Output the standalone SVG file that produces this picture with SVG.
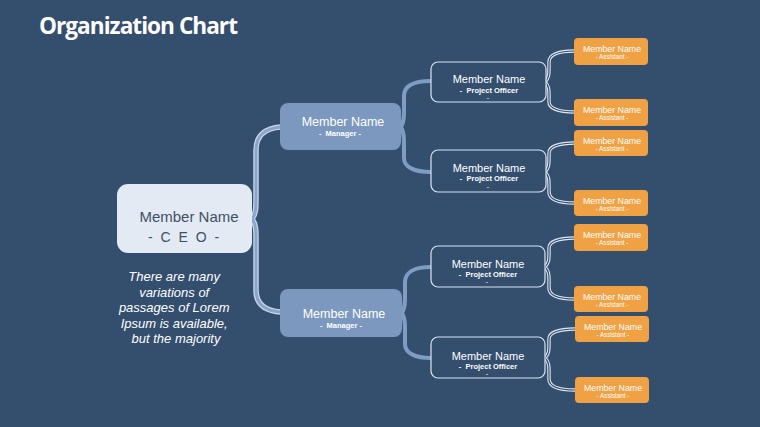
<svg xmlns="http://www.w3.org/2000/svg" width="760" height="427" viewBox="0 0 760 427">
<style>
.t{font-family:"Liberation Sans",Arial,sans-serif;text-anchor:middle}
.mgr{fill:#7c98bf}
.po{fill:#344e6e;stroke:#dbe4ef;stroke-width:1.2}
.as{fill:#f0a143}
.an{font-size:8.8px}
.aa{font-size:6.3px}
.brA{fill:none;stroke:#c9d6e7;stroke-width:5.5}
.brB{fill:none;stroke:#8aa5ca;stroke-width:3}
.brC{fill:none;stroke:#7f9cc3;stroke-width:4}
.brW{fill:none;stroke:#dde6f1;stroke-width:3.4}
.brD{fill:none;stroke:#344e6e;stroke-width:1.2}
</style>
<rect width="760" height="427" fill="#344e6e"/>
<text x="39" y="34" font-family="'Open Sans','Liberation Sans',sans-serif" font-weight="bold" font-size="23" fill="#ffffff" textLength="198" lengthAdjust="spacingAndGlyphs" letter-spacing="-1">Organization Chart</text>

<g id="connectors">
  <path class="brA" d="M252,219 C256,214 256,208 256,198 L256,150 C256,136 265,128 281,127"/>
  <path class="brA" d="M252,219 C256,224 256,230 256,240 L256,290 C256,304 265,311 281,312"/>
  <path class="brB" d="M252,219 C256,214 256,208 256,198 L256,150 C256,136 265,128 281,127"/>
  <path class="brB" d="M252,219 C256,224 256,230 256,240 L256,290 C256,304 265,311 281,312"/>
  <path class="brC" d="M401,127 C404,122 404,117 404,110 L404,96 C404,86 414,81 431,81"/>
  <path class="brC" d="M401,127 C404,132 404,137 404,144 L404,158 C404,167 414,172 431,172"/>
  <path class="brC" d="M402,313 C405,308 405,303 405,296 L405,282 C405,272 415,267 431,267"/>
  <path class="brC" d="M402,313 C405,318 405,323 405,330 L405,344 C405,353 415,358 431,358"/>
  <g>
    <path class="brW" d="M545,82 C549,78 549,74 549,69 L549,62 C549,55 558,51 575,51 M545,82 C549,86 549,90 549,95 L549,102 C549,108 558,112 575,112"/>
    <path class="brD" d="M545,82 C549,78 549,74 549,69 L549,62 C549,55 558,51 575,51 M545,82 C549,86 549,90 549,95 L549,102 C549,108 558,112 575,112"/>
  </g>
  <g>
    <path class="brW" d="M545,172 C549,168 549,164 549,159 L549,153 C549,147 558,143 575,143 M545,172 C549,176 549,180 549,185 L549,192 C549,199 558,203 575,203"/>
    <path class="brD" d="M545,172 C549,168 549,164 549,159 L549,153 C549,147 558,143 575,143 M545,172 C549,176 549,180 549,185 L549,192 C549,199 558,203 575,203"/>
  </g>
  <g>
    <path class="brW" d="M545,267 C549,263 549,259 549,254 L549,248 C549,242 558,238 575,238 M545,267 C549,271 549,275 549,280 L549,288 C549,295 558,299 575,299"/>
    <path class="brD" d="M545,267 C549,263 549,259 549,254 L549,248 C549,242 558,238 575,238 M545,267 C549,271 549,275 549,280 L549,288 C549,295 558,299 575,299"/>
  </g>
  <g>
    <path class="brW" d="M545,358 C549,354 549,350 549,345 L549,339 C549,333 558,329 575,329 M545,358 C549,362 549,366 549,371 L549,379 C549,386 558,390 575,390"/>
    <path class="brD" d="M545,358 C549,354 549,350 549,345 L549,339 C549,333 558,329 575,329 M545,358 C549,362 549,366 549,371 L549,379 C549,386 558,390 575,390"/>
  </g>
</g>

<g id="ceo">
  <rect x="117" y="184" width="135" height="69" rx="11" fill="#e3eaf3"/>
  <text class="t" x="189" y="222" font-size="15" fill="#3f5066">Member Name</text>
  <text x="148" y="242" font-family="'Liberation Sans',Arial,sans-serif" font-size="14" fill="#3f5066" letter-spacing="2">- C E O -</text>
</g>

<g id="note">
  <text class="t" font-size="13" font-style="italic" fill="#ffffff">
    <tspan x="176" y="281">There are many</tspan>
    <tspan x="176" y="297">variations of</tspan>
    <tspan x="176" y="312">passages of Lorem</tspan>
    <tspan x="176" y="328">Ipsum is available,</tspan>
    <tspan x="176" y="343">but the majority</tspan>
  </text>
</g>

<g id="manager1">
  <rect class="mgr" x="280" y="103" width="121" height="47" rx="8"/>
  <text class="t" x="343" y="126" font-size="12.5" fill="#ffffff">Member Name</text>
  <text class="t" x="340" y="136" font-size="7.5" font-weight="bold" fill="#ffffff" xml:space="preserve">-  Manager -</text>
</g>
<g id="manager2">
  <rect class="mgr" x="280" y="289" width="122" height="48" rx="8"/>
  <text class="t" x="344" y="318" font-size="12.5" fill="#ffffff">Member Name</text>
  <text class="t" x="341" y="328" font-size="7.5" font-weight="bold" fill="#ffffff" xml:space="preserve">-  Manager -</text>
</g>

<g id="po1">
  <rect class="po" x="431" y="62" width="115" height="40" rx="7"/>
  <text class="t" x="489" y="83" font-size="11" fill="#ffffff">Member Name</text>
  <text class="t" x="489" y="93" font-size="7.5" font-weight="bold" fill="#ffffff" xml:space="preserve">-  Project Officer</text>
  <text class="t" x="488" y="100" font-size="7" fill="#ffffff">-</text>
</g>
<g id="po2">
  <rect class="po" x="431" y="150" width="115" height="42" rx="7"/>
  <text class="t" x="489" y="172" font-size="11" fill="#ffffff">Member Name</text>
  <text class="t" x="489" y="181" font-size="7.5" font-weight="bold" fill="#ffffff" xml:space="preserve">-  Project Officer</text>
  <text class="t" x="488" y="189" font-size="7" fill="#ffffff">-</text>
</g>
<g id="po3">
  <rect class="po" x="431" y="246" width="114" height="41" rx="7"/>
  <text class="t" x="488" y="268" font-size="11" fill="#ffffff">Member Name</text>
  <text class="t" x="488" y="277" font-size="7.5" font-weight="bold" fill="#ffffff" xml:space="preserve">-  Project Officer</text>
  <text class="t" x="487" y="284" font-size="7" fill="#ffffff">-</text>
</g>
<g id="po4">
  <rect class="po" x="431" y="337" width="114" height="41" rx="7"/>
  <text class="t" x="488" y="360" font-size="11" fill="#ffffff">Member Name</text>
  <text class="t" x="488" y="369" font-size="7.5" font-weight="bold" fill="#ffffff" xml:space="preserve">-  Project Officer</text>
  <text class="t" x="487" y="376" font-size="7" fill="#ffffff">-</text>
</g>

<g id="as1"><rect class="as" x="574" y="38" width="74" height="27" rx="4"/><text class="t an" x="612" y="52" fill="#ffffff">Member Name</text><text class="t aa" x="612" y="59" fill="#ffffff">- Assistant -</text></g>
<g id="as2"><rect class="as" x="574" y="99" width="74" height="27" rx="4"/><text class="t an" x="612" y="113" fill="#ffffff">Member Name</text><text class="t aa" x="612" y="120" fill="#ffffff">- Assistant -</text></g>
<g id="as3"><rect class="as" x="574" y="130" width="74" height="26" rx="4"/><text class="t an" x="612" y="144" fill="#ffffff">Member Name</text><text class="t aa" x="612" y="151" fill="#ffffff">- Assistant -</text></g>
<g id="as4"><rect class="as" x="574" y="190" width="74" height="26" rx="4"/><text class="t an" x="612" y="204" fill="#ffffff">Member Name</text><text class="t aa" x="612" y="211" fill="#ffffff">- Assistant -</text></g>
<g id="as5"><rect class="as" x="574" y="224" width="74" height="27" rx="4"/><text class="t an" x="612" y="238" fill="#ffffff">Member Name</text><text class="t aa" x="612" y="245" fill="#ffffff">- Assistant -</text></g>
<g id="as6"><rect class="as" x="574" y="286" width="74" height="26" rx="4"/><text class="t an" x="612" y="300" fill="#ffffff">Member Name</text><text class="t aa" x="612" y="307" fill="#ffffff">- Assistant -</text></g>
<g id="as7"><rect class="as" x="575" y="316" width="74" height="26" rx="4"/><text class="t an" x="613" y="330" fill="#ffffff">Member Name</text><text class="t aa" x="613" y="337" fill="#ffffff">- Assistant -</text></g>
<g id="as8"><rect class="as" x="575" y="377" width="74" height="26" rx="4"/><text class="t an" x="613" y="391" fill="#ffffff">Member Name</text><text class="t aa" x="613" y="398" fill="#ffffff">- Assistant -</text></g>
</svg>
